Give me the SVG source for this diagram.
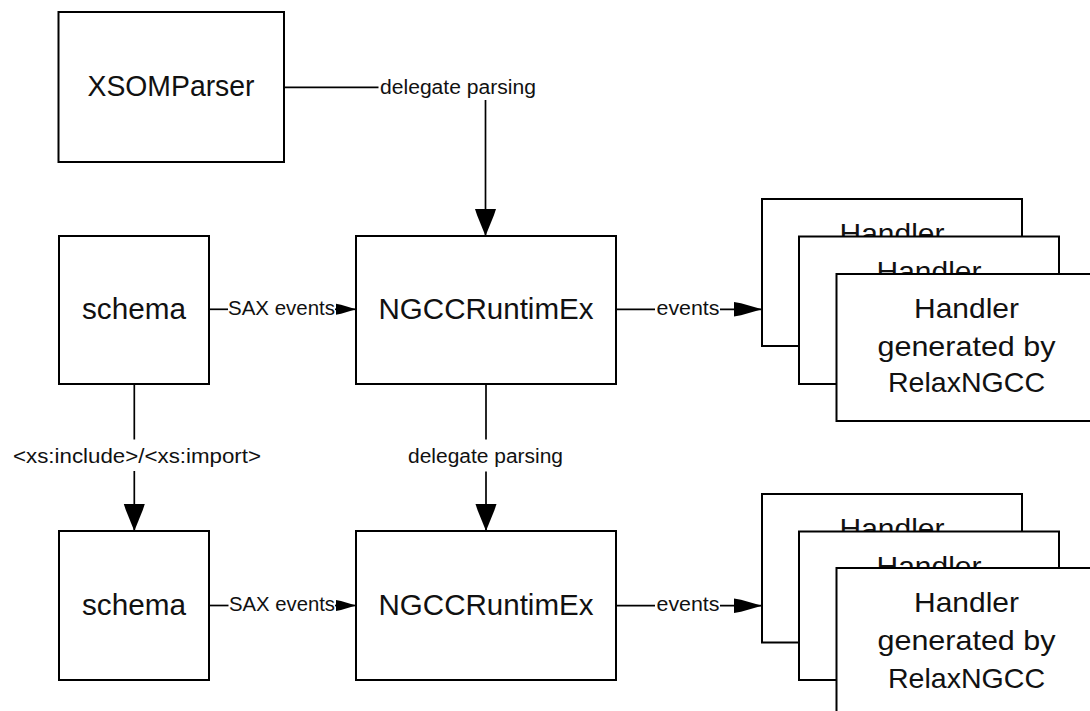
<svg xmlns="http://www.w3.org/2000/svg" width="1090" height="711" viewBox="0 0 1090 711">
<style>
.box{fill:#fff;stroke:#000;stroke-width:2}
.t{font-family:"Liberation Sans",Arial,sans-serif;font-size:29px;fill:#111;text-anchor:middle}
.h{font-family:"Liberation Sans",Arial,sans-serif;font-size:28px;fill:#111;text-anchor:middle}
.lb{font-family:"Liberation Sans",Arial,sans-serif;font-size:20px;fill:#111;text-anchor:middle}
.c{fill:none;stroke:#000;stroke-width:1.7}
</style>
<defs>
<marker id="aV" markerUnits="userSpaceOnUse" markerWidth="30" markerHeight="24" viewBox="0 -12 28 24" refX="27" refY="0" orient="auto">
<path d="M0,-10.5 L6,-8.5 L27,0 L6,8.5 L0,10.5 Z" fill="#000"/>
</marker>
<marker id="aE" markerUnits="userSpaceOnUse" markerWidth="30" markerHeight="18" viewBox="0 -9 29 18" refX="28" refY="0" orient="auto">
<path d="M0,-7.3 L7,-6 L28,0 L7,6 L0,7.3 Z" fill="#000"/>
</marker>
<marker id="aS" markerUnits="userSpaceOnUse" markerWidth="22" markerHeight="14" viewBox="0 -7 21 14" refX="20" refY="0" orient="auto">
<path d="M0,-5.5 L5,-4.5 L20,0 L5,4.5 L0,5.5 Z" fill="#000"/>
</marker>
</defs>

<g id="xsomparser">
<rect class="box" x="58.5" y="12" width="225.5" height="150"/>
<text class="t" x="171" y="96" textLength="167" lengthAdjust="spacingAndGlyphs">XSOMParser</text>
</g>

<g id="schema1">
<rect class="box" x="59" y="236" width="150" height="148"/>
<text class="t" x="134" y="318.5" textLength="104" lengthAdjust="spacingAndGlyphs">schema</text>
</g>

<g id="runtime1">
<rect class="box" x="356" y="236" width="260" height="148"/>
<text class="t" x="486" y="318.5" textLength="215" lengthAdjust="spacingAndGlyphs">NGCCRuntimEx</text>
</g>

<g id="schema2">
<rect class="box" x="59" y="531" width="150" height="149"/>
<text class="t" x="134" y="615" textLength="104" lengthAdjust="spacingAndGlyphs">schema</text>
</g>

<g id="runtime2">
<rect class="box" x="356" y="531" width="260" height="149"/>
<text class="t" x="486" y="615" textLength="215" lengthAdjust="spacingAndGlyphs">NGCCRuntimEx</text>
</g>

<g id="handler1a">
<rect class="box" x="762" y="199" width="260" height="147"/>
<text class="h" x="892" y="243" textLength="105" lengthAdjust="spacingAndGlyphs">Handler</text>
</g>
<g id="handler1b">
<rect class="box" x="799" y="236.5" width="260" height="147.5"/>
<text class="h" x="929" y="280.5" textLength="105" lengthAdjust="spacingAndGlyphs">Handler</text>
</g>
<g id="handler1c">
<rect class="box" x="836.5" y="274" width="260" height="147"/>
<text class="h" x="966.5" y="318.3" textLength="105" lengthAdjust="spacingAndGlyphs">Handler</text>
<text class="h" x="966.5" y="356" textLength="178" lengthAdjust="spacingAndGlyphs">generated by</text>
<text class="h" x="966.5" y="392.3" textLength="157" lengthAdjust="spacingAndGlyphs">RelaxNGCC</text>
</g>

<g id="handler2a">
<rect class="box" x="762" y="494" width="260" height="148.5"/>
<text class="h" x="892" y="538" textLength="105" lengthAdjust="spacingAndGlyphs">Handler</text>
</g>
<g id="handler2b">
<rect class="box" x="799" y="531.5" width="260" height="148.5"/>
<text class="h" x="929" y="575.5" textLength="105" lengthAdjust="spacingAndGlyphs">Handler</text>
</g>
<g id="handler2c">
<rect class="box" x="836.5" y="568" width="260" height="160"/>
<text class="h" x="966.5" y="611.7" textLength="105" lengthAdjust="spacingAndGlyphs">Handler</text>
<text class="h" x="966.5" y="650" textLength="178" lengthAdjust="spacingAndGlyphs">generated by</text>
<text class="h" x="966.5" y="687.5" textLength="157" lengthAdjust="spacingAndGlyphs">RelaxNGCC</text>
</g>

<g id="connectors">
<path class="c" d="M284,87.3 L378.5,87.3"/>
<path class="c" d="M485.5,100 L485.5,236" marker-end="url(#aV)"/>
<text class="lb" x="458" y="93.5" textLength="156" lengthAdjust="spacingAndGlyphs">delegate parsing</text>

<path class="c" d="M209,309.3 L228,309.3"/>
<path class="c" d="M335,309.3 L356,309.3" marker-end="url(#aS)"/>
<text class="lb" x="281.5" y="315" textLength="107" lengthAdjust="spacingAndGlyphs">SAX events</text>

<path class="c" d="M616,309.3 L655,309.3"/>
<path class="c" d="M720,309.3 L762,309.3" marker-end="url(#aE)"/>
<text class="lb" x="688" y="314.5" textLength="63" lengthAdjust="spacingAndGlyphs">events</text>

<path class="c" d="M134.3,384 L134.3,439.5"/>
<path class="c" d="M134.3,471 L134.3,531" marker-end="url(#aV)"/>
<text class="lb" x="137" y="463.3" textLength="248" lengthAdjust="spacingAndGlyphs">&lt;xs:include&gt;/&lt;xs:import&gt;</text>

<path class="c" d="M486,384 L486,439.5"/>
<path class="c" d="M486,471.5 L486,531" marker-end="url(#aV)"/>
<text class="lb" x="485.5" y="463.3" textLength="155" lengthAdjust="spacingAndGlyphs">delegate parsing</text>

<path class="c" d="M209,605.5 L228.5,605.5"/>
<path class="c" d="M335,605.5 L356,605.5" marker-end="url(#aS)"/>
<text class="lb" x="282" y="611" textLength="106" lengthAdjust="spacingAndGlyphs">SAX events</text>

<path class="c" d="M616,605.7 L655,605.7"/>
<path class="c" d="M720,605.7 L762,605.7" marker-end="url(#aE)"/>
<text class="lb" x="688" y="611" textLength="63" lengthAdjust="spacingAndGlyphs">events</text>
</g>
</svg>
